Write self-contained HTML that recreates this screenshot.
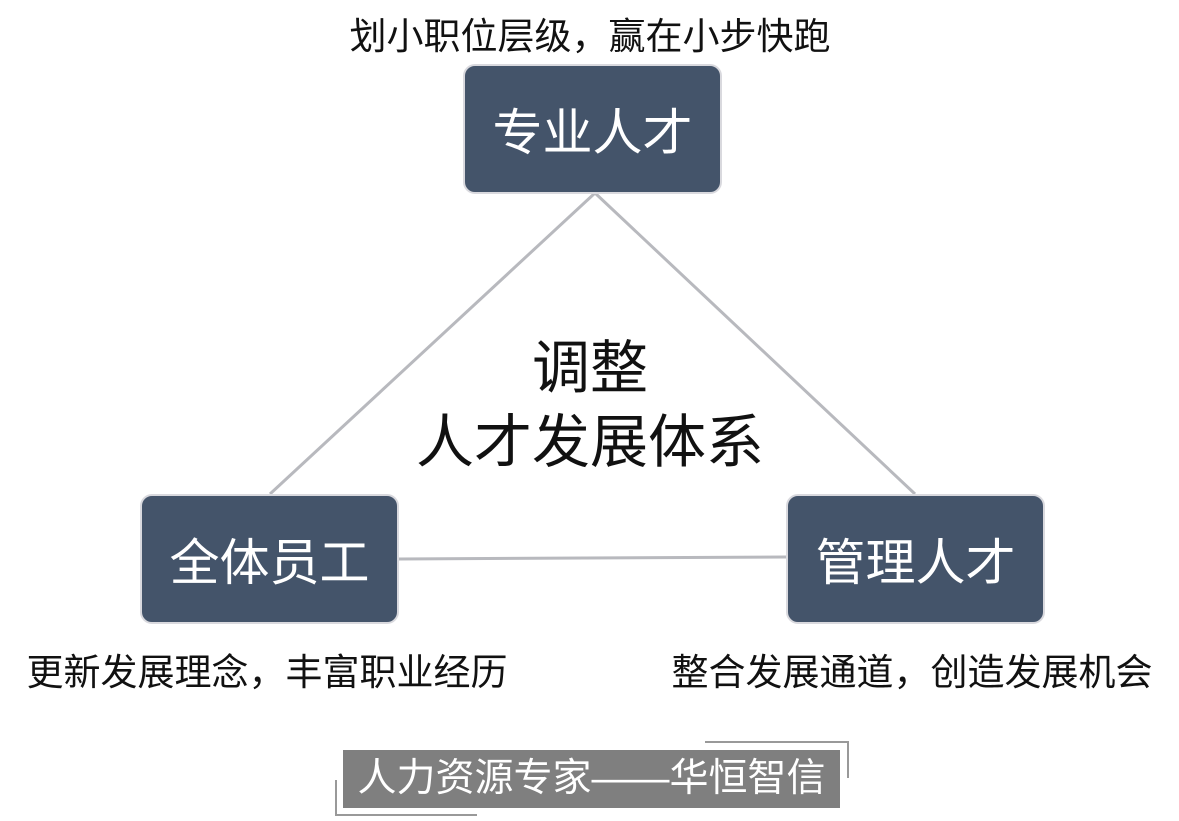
<!DOCTYPE html>
<html><head><meta charset="utf-8"><style>
body{margin:0;width:1179px;height:821px;background:#fff;position:relative;overflow:hidden;font-family:"Liberation Sans","Noto Sans CJK SC",sans-serif}
.t{position:absolute;white-space:nowrap;text-align:center;color:#111}
.box{position:absolute;width:255px;height:126px;background:#44546a;border:2px solid #d9d9de;border-radius:12px;color:#fff;font-size:50px;display:flex;align-items:center;justify-content:center;box-sizing:content-box}
</style></head><body>
<svg width="1179" height="821" style="position:absolute;left:0;top:0">
<line x1="595" y1="193" x2="270" y2="494" stroke="#b8b9be" stroke-width="3"/>
<line x1="595" y1="193" x2="915" y2="494" stroke="#b8b9be" stroke-width="3"/>
<line x1="399" y1="559" x2="786" y2="557" stroke="#b8b9be" stroke-width="3"/>
<rect x="343" y="750" width="497" height="58" fill="#7f7f7f"/>
<polyline points="705,742 848,742 848,778" fill="none" stroke="#999" stroke-width="2"/>
<polyline points="336,780 336,815 477,815" fill="none" stroke="#999" stroke-width="2"/>
</svg>
<div class="t" style="left:290px;top:6px;width:600px;font-size:37px">划小职位层级，赢在小步快跑</div>
<div class="box" style="left:463px;top:64px">专业人才</div>
<div class="box" style="left:140px;top:494px">全体员工</div>
<div class="box" style="left:786px;top:494px">管理人才</div>
<div class="t" style="left:340px;top:332px;width:500px;font-size:58px;line-height:74px">调整<br>人才发展体系</div>
<div class="t" style="left:0px;top:642px;width:534px;font-size:37px">更新发展理念，丰富职业经历</div>
<div class="t" style="left:640px;top:642px;width:544px;font-size:37px">整合发展通道，创造发展机会</div>
<div class="t" style="left:343px;top:752px;width:497px;font-size:39px;color:#fff;line-height:54px">人力资源专家——华恒智信</div>
</body></html>
